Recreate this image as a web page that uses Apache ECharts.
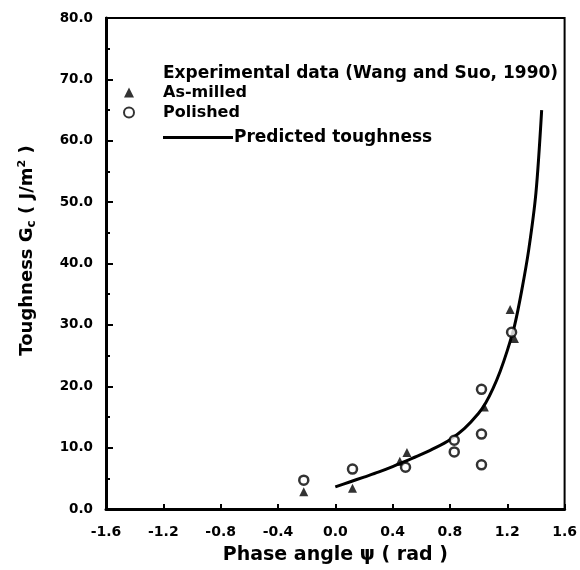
<!DOCTYPE html>
<html>
<head>
<meta charset="utf-8">
<script src="https://cdn.jsdelivr.net/npm/echarts@6/dist/echarts.min.js"></script>
<style>
  html, body { margin: 0; padding: 0; background: #fff; }
  #chart { width: 580px; height: 570px; }
</style>
</head>
<body>
<div id="chart"></div>
<script>
// experimental data (Wang and Suo, 1990)
const asMilledX = [-0.22, 0.12, 0.45, 0.50, 1.04, 1.22, 1.25]
const asMilledY = [2.8, 3.4, 7.8, 9.2, 16.6, 32.5, 27.8]
const polishedX = [-0.22, 0.12, 0.49, 0.83, 0.83, 1.02, 1.02, 1.02, 1.23]
const polishedY = [4.7, 6.5, 6.8, 11.2, 9.3, 19.5, 12.2, 7.2, 28.8]

// predicted toughness curve
const curveX = [0.0, 0.1, 0.2, 0.3, 0.4, 0.5, 0.6, 0.7, 0.8, 0.9, 1.0, 1.05, 1.1, 1.15, 1.2, 1.25, 1.3, 1.35, 1.4, 1.44]
const curveY = [3.6, 4.4, 5.2, 6.0, 6.9, 7.9, 8.9, 10.0, 11.3, 13.1, 15.6, 17.3, 19.6, 22.4, 25.8, 29.8, 35.5, 42.3, 51.5, 65.0]

const zip = (xs, ys) => xs.map((x, i) => [x, ys[i]])
const font = 'DejaVu Sans'

const chart = echarts.init(document.getElementById('chart'))

chart.setOption({
  animation: false,
  backgroundColor: '#fff',
  title: {
    text: 'Experimental data (Wang and Suo, 1990)',
    left: 163,
    top: 65,
    padding: 0,
    textStyle: { fontFamily: font, fontWeight: 'bold', fontSize: 17, color: '#000' }
  },
  legend: [
    {
      data: ['As-milled', 'Polished'],
      orient: 'vertical',
      left: 123,
      top: 84,
      padding: 0,
      itemWidth: 10,
      itemHeight: 10,
      itemGap: 3,
      textStyle: {
        fontFamily: font, fontWeight: 'bold', fontSize: 16, color: '#000',
        lineHeight: 17, padding: [0, 0, 0, 24]
      }
    },
    {
      data: [{ name: 'Predicted toughness', icon: 'rect' }],
      left: 163,
      top: 129,
      padding: 0,
      itemWidth: 70,
      itemHeight: 3,
      textStyle: { fontFamily: font, fontWeight: 'bold', fontSize: 17, color: '#000', padding: [0, 0, 0, -4] }
    }
  ],
  grid: {
    left: 106, right: 14, top: 18, bottom: 60,
    show: true, borderColor: '#000', borderWidth: 2
  },
  xAxis: {
    type: 'value',
    min: -1.6, max: 1.6, interval: 0.4,
    name: 'Phase angle ψ ( rad )',
    nameLocation: 'middle',
    nameGap: 37,
    nameTextStyle: { fontFamily: font, fontWeight: 'bold', fontSize: 19, color: '#000' },
    axisLine: { onZero: false, lineStyle: { color: '#000', width: 3 } },
    axisTick: { inside: true, length: 5, lineStyle: { color: '#000', width: 2 } },
    splitLine: { show: false },
    axisLabel: {
      fontFamily: font, fontWeight: 'bold', fontSize: 14, color: '#000', margin: 16,
      formatter: v => v.toFixed(1)
    }
  },
  yAxis: {
    type: 'value',
    min: 0, max: 80, interval: 10,
    name: '{n|Toughness G}{s|c}{n| ( J/m}{p|2}{n| )}',
    nameLocation: 'middle',
    nameGap: 68,
    nameTextStyle: {
      fontFamily: font, fontWeight: 'bold', fontSize: 18, color: '#000',
      padding: [0, 0, 0, 26],
      rich: {
        n: { fontFamily: font, fontWeight: 'bold', fontSize: 18, color: '#000' },
        s: { fontFamily: font, fontWeight: 'bold', fontSize: 12, color: '#000', verticalAlign: 'bottom', padding: [9, 0, 0, 0] },
        p: { fontFamily: font, fontWeight: 'bold', fontSize: 11, color: '#000', verticalAlign: 'top', padding: [0, 0, 9, 0] }
      }
    },
    axisLine: { onZero: false, lineStyle: { color: '#000', width: 3 } },
    axisTick: { inside: true, length: 7, lineStyle: { color: '#000', width: 2 } },
    minorTick: { show: true, splitNumber: 2, length: 4, lineStyle: { color: '#000', width: 2 } },
    splitLine: { show: false },
    axisLabel: {
      fontFamily: font, fontWeight: 'bold', fontSize: 13.5, color: '#000', margin: 13,
      formatter: v => v.toFixed(1)
    }
  },
  series: [
    {
      name: 'As-milled',
      type: 'scatter',
      symbol: 'triangle',
      symbolSize: 9,
      itemStyle: { color: '#000' },
      data: zip(asMilledX, asMilledY),
      z: 3
    },
    {
      name: 'Polished',
      type: 'scatter',
      symbol: 'circle',
      symbolSize: 9,
      itemStyle: { color: '#fff', borderColor: '#000', borderWidth: 2.5 },
      data: zip(polishedX, polishedY),
      z: 4
    },
    {
      name: 'Predicted toughness',
      type: 'line',
      smooth: 0.3,
      symbol: 'none',
      showSymbol: false,
      lineStyle: { color: '#000', width: 3 },
      itemStyle: { color: '#000' },
      data: zip(curveX, curveY),
      z: 2
    }
  ]
})
</script>
</body>
</html>
